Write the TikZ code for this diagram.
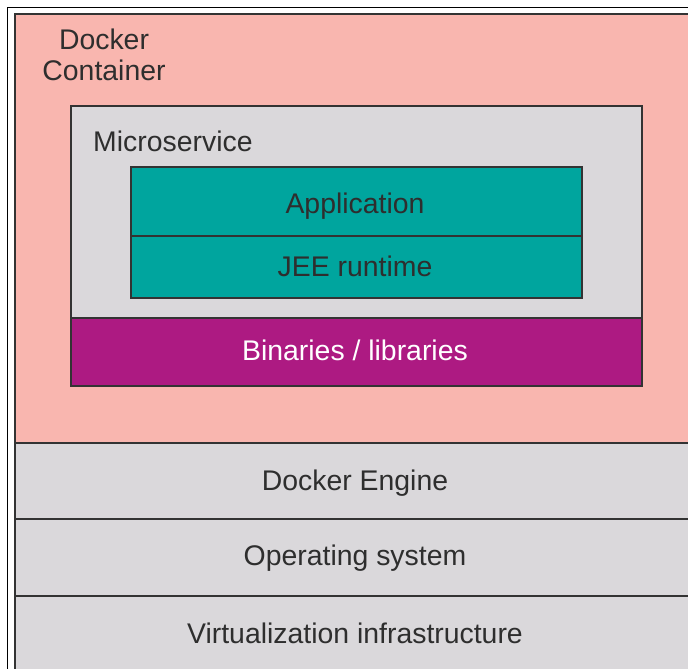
\documentclass[tikz,border=0pt]{standalone}
\usepackage{fontspec}
\setmainfont{Liberation Sans}
\definecolor{cpink}{HTML}{F9B6AF}
\definecolor{cgrey}{HTML}{DAD8DB}
\definecolor{cteal}{HTML}{00A59E}
\definecolor{cmag}{HTML}{AD1A82}
\definecolor{cedge}{HTML}{333333}
\definecolor{ctext}{HTML}{2E2E2E}
\begin{document}
\begin{tikzpicture}[x=1pt,y=-1pt,
  boxline/.style={draw=cedge,line width=1.8pt},
  lbl/.style={anchor=base,inner sep=0pt,text=ctext,font=\fontsize{28.4}{31}\selectfont},
  wlbl/.style={lbl,text=white}]
\useasboundingbox (0,0) rectangle (688,669);
\clip (0,0) rectangle (688,669);
\fill[white] (0,0) rectangle (688,669);
\draw[black,line width=1.3pt] (7.5,7.5) rectangle (720,720);
% container and lower layers
\draw[boxline,fill=cpink] (15,14) rectangle (700,443);
\draw[boxline,fill=cgrey] (15,443) rectangle (700,519);
\draw[boxline,fill=cgrey] (15,519) rectangle (700,596);
\draw[boxline,fill=cgrey] (15,596) rectangle (700,690);
% microservice
\draw[boxline,fill=cgrey] (71,106) rectangle (642,386);
\draw[boxline,fill=cmag] (71,318) rectangle (642,386);
\draw[boxline,fill=cteal] (131,167) rectangle (582,298);
\draw[boxline] (131,236) -- (582,236);
% labels
\node[lbl] (docker) at (104,50) {Docker};
\node[lbl] (container) at (104,81) {Container};
\node[lbl,anchor=base west] (micro) at (93,151) {Microservice};
\node[lbl] (app) at (355,213) {Application};
\node[lbl] (jee) at (355,276) {JEE runtime};
\node[wlbl] (bin) at (355,360) {Binaries / libraries};
\node[lbl] (engine) at (355,490) {Docker Engine};
\node[lbl] (os) at (355,565) {Operating system};
\node[lbl] (virt) at (355,643) {Virtualization infrastructure};
\end{tikzpicture}
\end{document}
